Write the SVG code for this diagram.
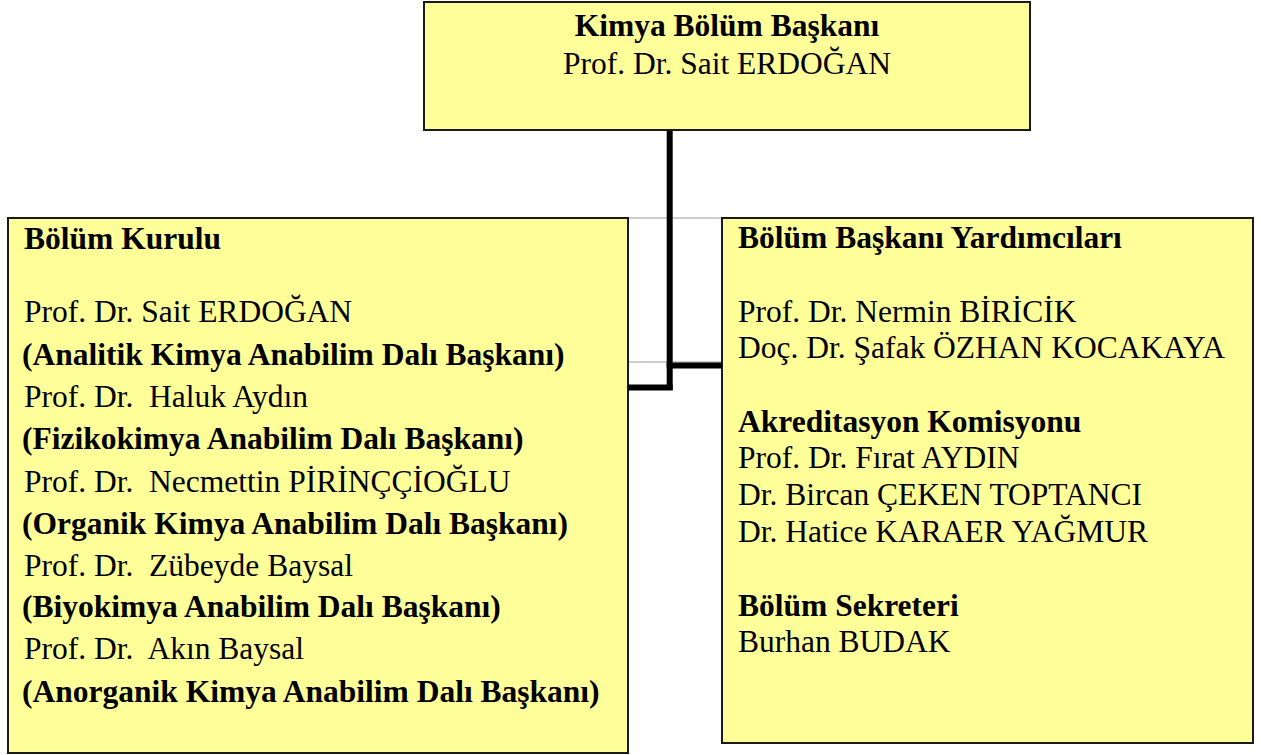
<svg xmlns="http://www.w3.org/2000/svg" width="1261" height="755" viewBox="0 0 1261 755">
<style>
.box{fill:#FFFF99;stroke:#1a1a1a;stroke-width:2}
.grid{stroke:#9a9a9a;stroke-width:1;fill:none}
.conn{stroke:#000;stroke-width:6;fill:none;stroke-linecap:butt}
text{font-family:"Liberation Serif","Times New Roman",serif;font-size:31.5px;fill:#000;white-space:pre}
.b{font-weight:bold}
</style>
<rect width="1261" height="755" fill="#fff"/>
<g id="gridlines">
<line class="grid" x1="628" y1="218" x2="722" y2="218"/>
<line class="grid" x1="628" y1="362" x2="722" y2="362"/>
</g>
<g id="node-head">
<rect class="box" x="424" y="2" width="606" height="128"/>
<text class="b" x="727" y="36" text-anchor="middle">Kimya Bölüm Başkanı</text>
<text x="727" y="74" text-anchor="middle">Prof. Dr. Sait ERDOĞAN</text>
</g>
<g id="node-kurul">
<rect class="box" x="8" y="218" width="620" height="535"/>
<text class="b" x="24" y="249">Bölüm Kurulu</text>
<text x="24" y="322">Prof. Dr. Sait ERDOĞAN</text>
<text class="b" x="22" y="365">(Analitik Kimya Anabilim Dalı Başkanı)</text>
<text x="24" y="407">Prof. Dr.  Haluk Aydın</text>
<text class="b" x="22" y="449">(Fizikokimya Anabilim Dalı Başkanı)</text>
<text x="24" y="491.5">Prof. Dr.  Necmettin PİRİNÇÇİOĞLU</text>
<text class="b" x="22" y="533.5">(Organik Kimya Anabilim Dalı Başkanı)</text>
<text x="24" y="575.5">Prof. Dr.  Zübeyde Baysal</text>
<text class="b" x="22" y="617">(Biyokimya Anabilim Dalı Başkanı)</text>
<text x="24" y="659">Prof. Dr.  Akın Baysal</text>
<text class="b" x="22" y="702">(Anorganik Kimya Anabilim Dalı Başkanı)</text>
</g>
<g id="node-yardimci">
<rect class="box" x="722" y="218" width="531" height="525"/>
<text class="b" x="738" y="248">Bölüm Başkanı Yardımcıları</text>
<text x="738" y="321.5">Prof. Dr. Nermin BİRİCİK</text>
<text x="738" y="358">Doç. Dr. Şafak ÖZHAN KOCAKAYA</text>
<text class="b" x="738" y="431.5">Akreditasyon Komisyonu</text>
<text x="738" y="468">Prof. Dr. Fırat AYDIN</text>
<text x="738" y="505">Dr. Bircan ÇEKEN TOPTANCI</text>
<text x="738" y="542">Dr. Hatice KARAER YAĞMUR</text>
<text class="b" x="738" y="615.5">Bölüm Sekreteri</text>
<text x="738" y="652">Burhan BUDAK</text>
</g>
<g id="connectors">
<line class="conn" x1="669.7" y1="131" x2="669.7" y2="390"/>
<line class="conn" x1="628" y1="387.5" x2="672.7" y2="387.5"/>
<line class="conn" x1="666.7" y1="365.5" x2="722" y2="365.5"/>
</g>
</svg>
